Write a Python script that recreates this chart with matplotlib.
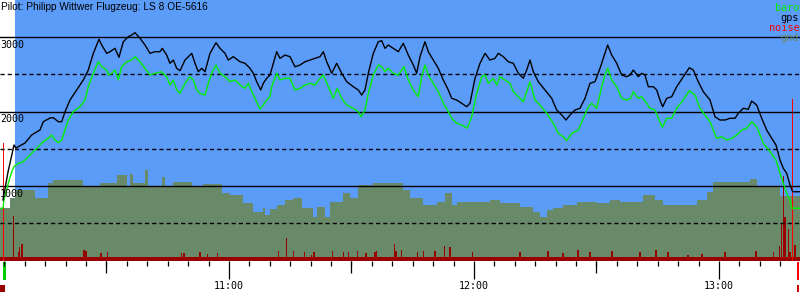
import matplotlib
matplotlib.use("Agg")
import matplotlib.pyplot as plt
from matplotlib.patches import Rectangle
from matplotlib.ticker import FixedLocator, NullFormatter
import matplotlib.transforms as mtransforms

# Zeit in Minuten nach 10:00, Hoehe in m
gps_t = [4.65, 5.88, 7.35, 7.84, 10.04, 11.68, 13.72, 14.52, 16.17, 16.97, 18.20, 19.03, 19.84,
         21.06, 22.70, 24.32, 25.54, 26.77, 27.60, 28.16, 28.83, 30.05, 30.86, 32.08, 33.06,
         34.12, 35.34, 36.17, 36.98, 38.21, 39.43, 40.65, 41.88, 43.10, 43.67, 44.74, 45.55,
         46.36, 47.19, 48.00, 49.23, 50.87, 51.68, 52.48, 53.32, 54.12, 55.35, 56.82, 57.80,
         59.02, 59.83, 61.06, 62.70, 63.92, 65.15, 65.95, 66.79, 67.77, 68.40, 69.23, 70.04,
         70.85, 71.68, 72.49, 73.72, 74.94, 76.16, 77.39, 78.61, 79.84, 81.06, 82.29, 83.10,
         83.93, 85.15, 86.38, 87.60, 88.83, 90.44, 91.67, 92.50, 93.31, 94.12, 95.34, 96.57,
         97.40, 98.21, 99.01, 100.24, 101.46, 102.69, 103.91, 105.14, 105.97, 106.78, 108.00,
         108.81, 110.03, 111.26, 112.48, 113.71, 114.54, 115.76, 116.99, 118.21, 119.02, 120.25,
         121.47, 122.70, 123.92, 125.15, 125.95, 127.18, 128.40, 129.63, 130.85, 132.08, 132.91,
         133.72, 134.53, 135.75, 137.39, 139.03, 140.26, 141.48, 142.53, 143.51, 144.74, 145.96,
         147.19, 148.41, 149.64, 150.86, 152.08, 152.74, 153.72, 154.95, 156.17, 157.40, 158.21,
         159.02, 160.24, 161.07, 161.88, 162.69, 163.92, 164.75, 165.55, 166.21, 167.19, 168.42,
         169.64, 171.26, 172.73, 173.71, 174.93, 176.16, 177.80, 179.02, 180.25, 181.47, 182.70,
         183.92, 184.73, 185.95, 187.18, 188.01, 189.23, 190.46, 191.68, 192.91, 193.96, 194.94,
         195.75, 196.58, 197.39, 198.05, 199.84]
gps_alt = [812, 1188, 1550, 1510, 1577, 1685, 1752, 1863, 1913, 1917, 1863, 1863, 1997,
           2154, 2289, 2423, 2557, 2781, 2893, 2969, 2893, 2781, 2803, 2848, 2728,
           2937, 3004, 3027, 3058, 2983, 2893, 2781, 2803, 2803, 2848, 2758, 2647,
           2691, 2580, 2548, 2691, 2781, 2647, 2534, 2580, 2534, 2781, 2923, 2848,
           2781, 2691, 2736, 2668, 2647, 2580, 2513, 2400, 2289, 2379, 2446, 2490,
           2647, 2803, 2714, 2758, 2736, 2601, 2624, 2668, 2691, 2714, 2736, 2803,
           2668, 2513, 2647, 2513, 2400, 2333, 2289, 2221, 2289, 2513, 2781, 2937,
           2950, 2848, 2893, 2848, 2803, 2915, 2758, 2624, 2513, 2736, 2937,
           2803, 2691, 2580, 2423, 2289, 2177, 2154, 2110, 2064, 2110, 2446,
           2647, 2781, 2691, 2714, 2781, 2736, 2668, 2647, 2513, 2446, 2557,
           2691, 2534, 2400, 2289, 2177, 2020, 1953, 1886, 1953, 2020, 2043,
           2177, 2379, 2400, 2580, 2781, 2893, 2758, 2647, 2490, 2467, 2490,
           2557, 2467, 2513, 2490, 2333, 2333, 2289, 2154, 2064, 2177, 2199,
           2333, 2467, 2588, 2557, 2400, 2266, 2154, 1930, 1886, 1886, 1909,
           1909, 1976, 2043, 2030, 2141, 2087, 1909, 1752, 1640, 1550, 1349,
           1238, 1170, 1013, 923, 923]

baro_t = [3.92, 4.65, 4.90, 5.95, 6.79, 7.35, 8.40, 9.63, 11.27, 12.91, 13.72, 14.52, 15.75,
          16.58, 17.39, 18.20, 19.03, 19.84, 20.65, 21.87, 23.51, 24.74, 25.54, 26.77, 27.99,
          28.83, 30.05, 30.44, 31.28, 32.08, 32.89, 33.72, 34.95, 36.17, 36.98, 38.21, 39.43,
          40.65, 41.88, 43.52, 44.74, 45.55, 46.36, 47.19, 48.00, 49.23, 50.45, 51.26, 52.09,
          52.90, 54.12, 54.93, 55.76, 56.82, 57.80, 59.02, 60.25, 61.47, 62.70, 63.92, 64.73,
          65.56, 66.37, 67.59, 68.40, 69.23, 70.04, 70.46, 71.68, 72.49, 73.72, 74.94, 76.16,
          77.39, 78.61, 79.84, 81.06, 82.29, 83.10, 84.32, 85.55, 86.52, 87.60, 88.83, 90.44,
          91.67, 92.33, 93.31, 94.12, 95.34, 96.57, 97.40, 98.21, 99.01, 100.24, 101.46, 102.86,
          103.91, 105.14, 106.36, 107.19, 108.00, 108.81, 110.03, 111.26, 112.48, 113.71, 114.54,
          115.76, 116.99, 118.36, 119.44, 120.66, 121.89, 122.70, 123.51, 124.73, 125.56, 126.37,
          127.59, 128.82, 129.63, 130.85, 132.08, 132.91, 133.72, 134.94, 136.17, 137.81, 139.42,
          140.65, 141.87, 142.70, 143.93, 145.55, 146.77, 148.00, 148.83, 150.05, 151.28, 152.08,
          152.74, 153.72, 154.95, 156.17, 157.40, 158.38, 159.02, 160.24, 161.07, 162.30, 163.10,
          164.33, 165.14, 166.12, 167.19, 168.42, 169.64, 171.26, 172.73, 174.13, 175.35, 176.57,
          177.80, 179.44, 180.67, 181.89, 183.12, 184.34, 185.56, 186.79, 188.01, 189.23, 190.85,
          192.49, 193.96, 194.94, 195.75, 196.58, 197.39, 197.81, 199.84]
baro_alt = [701, 701, 812, 1036, 1192, 1259, 1305, 1326, 1416, 1506, 1550, 1595, 1640,
            1685, 1617, 1581, 1617, 1752, 1886, 1997, 2064, 2154, 2333, 2513, 2668,
            2601, 2557, 2490, 2513, 2557, 2423, 2601, 2668, 2691, 2736, 2668, 2580,
            2490, 2513, 2534, 2467, 2356, 2423, 2289, 2244, 2379, 2467, 2423, 2289,
            2244, 2221, 2379, 2513, 2624, 2513, 2467, 2400, 2423, 2356, 2311, 2379,
            2266, 2177, 2030, 2087, 2154, 2199, 2333, 2513, 2423, 2446, 2446, 2289,
            2311, 2356, 2379, 2356, 2446, 2490, 2333, 2177, 2311, 2177, 2087, 2043,
            1997, 1930, 2020, 2244, 2490, 2624, 2601, 2534, 2580, 2513, 2490, 2601,
            2423, 2289, 2199, 2467, 2624, 2490, 2379, 2266, 2110, 1997, 1909,
            1842, 1819, 1775, 1930, 2244, 2467, 2490, 2379, 2446, 2356, 2467,
            2423, 2379, 2266, 2199, 2132, 2266, 2400, 2154, 2087, 1976, 1842,
            1707, 1662, 1608, 1707, 1752, 1909, 2064, 2110, 2043, 2333, 2490,
            2580, 2423, 2333, 2177, 2154, 2177, 2266, 2177, 2199, 2110, 2043,
            2020, 1909, 1788, 1909, 1909, 2043, 2154, 2279, 2221, 2043, 1953,
            1863, 1640, 1662, 1617, 1640, 1685, 1752, 1775, 1863, 1796, 1573,
            1460, 1349, 1170, 1036, 902, 812, 701, 701]

gnd_t = [3.92, 6.37, 7.59, 12.49, 15.68, 16.90, 24.25, 28.41, 32.57, 35.02, 35.76, 36.49,
         39.43, 40.17, 43.59, 44.33, 46.29, 50.94, 53.63, 58.29, 60.25, 63.43, 65.88, 68.33,
         68.82, 70.04, 71.76, 73.72, 75.68, 77.88, 80.57, 81.55, 83.51, 84.74, 87.92, 89.64,
         91.59, 95.27, 102.61, 104.33, 107.51, 110.94, 112.90, 114.61, 115.84, 123.92, 126.37,
         131.27, 134.45, 136.17, 137.88, 139.35, 141.80, 145.23, 150.13, 153.31, 155.76,
         161.39, 164.33, 166.29, 174.62, 177.06, 178.53, 187.59, 189.31, 194.94, 199.84]
gnd_alt = [705, 839, 946, 835, 1036, 1081, 991, 1036, 1148, 991, 1161, 1036,
           1215, 991, 1125, 991, 1058, 991, 1027, 902, 879, 768, 655, 701,
           611, 687, 745, 812, 835, 701, 588, 722, 588, 789, 902, 835,
           1013, 1036, 946, 835, 745, 789, 902, 745, 789, 812, 768,
           722, 655, 588, 678, 701, 745, 789, 768, 812, 789,
           879, 812, 745, 812, 924, 1058, 1090, 991, 866, 866]

noise_t = [4.78, 7.18, 8.40, 8.65, 9.31, 24.49, 24.98, 28.65, 30.20, 48.42, 48.98, 52.90,
           54.69, 57.14, 72.08, 74.13, 75.75, 78.44, 80.25, 80.82, 85.40, 88.00, 89.22, 91.42,
           93.55, 95.76, 96.17, 100.48, 100.90, 102.30, 106.12, 107.59, 110.45, 112.73, 114.13,
           119.68, 131.27, 138.13, 141.80, 145.47, 148.41, 153.80, 160.66, 164.57, 167.51,
           172.41, 175.84, 181.47, 189.06, 193.30, 194.77, 195.36, 195.75, 196.17, 196.98,
           197.39, 198.62]
noise_v = [342, 597, 118, 185, 221, 141, 128, 101, 114, 105, 105, 110,
           87, 97, 128, 302, 128, 110, 74, 110, 128, 110, 110, 128,
           97, 118, 128, 221, 128, 141, 110, 128, 128, 195, 177,
           110, 114, 128, 101, 141, 114, 128, 114, 141, 114,
           74, 87, 118, 128, 114, 195, 499, 1134, 580, 423,
           114, 208]
noise_peak_t = [4.73, 198.05]
noise_peak_v = [1577, 2168]
noise_floor = 47

takeoff_t = 4.65
landing_t = 199.35

title = "Pilot: Philipp Wittwer Flugzeug: LS 8 OE-5616"
hour_ticks = [60, 120, 180]
hour_labels = ["11:00", "12:00", "13:00"]
half_ticks = [30, 90, 150]
minor_ticks = list(range(5, 200, 5))
solid_levels = [1000, 2000, 3000]
dashed_levels = [500, 1500, 2500]

t_min, t_max = 3.92, 199.84
a_min, a_max = -7, 3497

c_sky = "#5b9cf9"
c_gnd = "#698a69"
c_noise = "#990000"
c_peak = "#ff0000"
c_baro = "#00ee00"

plt.rcParams["lines.scale_dashes"] = False
fig = plt.figure(figsize=(8, 3), dpi=100)
ax = fig.add_axes([0, 0.13, 1, 0.87])
ax.set_facecolor(c_sky)
ax.set_xlim(t_min, t_max)
ax.set_ylim(a_min, a_max)

ax.axvspan(t_min, 7.59, color="white", lw=0, zorder=0.5)
ax.fill_between(gnd_t, gnd_alt, a_min, step="post", color=c_gnd, lw=0, zorder=1)

ax.axhspan(a_min, noise_floor, color=c_noise, lw=0, zorder=2)
ax.bar(noise_t, [v - a_min for v in noise_v], bottom=a_min, width=0.3,
       color=c_noise, lw=0, zorder=2)
ax.bar(noise_peak_t, [v - a_min for v in noise_peak_v], bottom=a_min, width=0.3,
       color=c_peak, lw=0, zorder=2.1)

for lv in solid_levels:
    ax.axhline(lv, color="black", lw=1.0, zorder=3)
for lv in dashed_levels:
    ax.axhline(lv, color="black", lw=1.0, ls=(0, (3, 2.2)), zorder=3)

ax.plot(baro_t, baro_alt, color=c_baro, lw=1.0, zorder=4)
ax.plot(gps_t, gps_alt, color="black", lw=1.0, zorder=5)

# Hoehenbeschriftung links
for lv in solid_levels:
    ax.text(t_min, lv - 35, str(lv), ha="left", va="top", fontsize=7.2,
            family="DejaVu Sans Mono", zorder=6)

# Start/Landung unter der Achse
trans = mtransforms.blended_transform_factory(ax.transData, ax.transAxes)
for x0, w, y0, h, c in [(takeoff_t, 0.7, -0.073, 0.069, "#00cc00"),
                        (t_min, 1.2, -0.119, 0.027, "#990000"),
                        (landing_t - 0.2, 0.5, -0.073, 0.069, "#ff0000"),
                        (landing_t - 0.2, 0.5, -0.119, 0.027, "#cc0000")]:
    ax.add_patch(Rectangle((x0, y0), w, h, transform=trans, color=c,
                           clip_on=False, lw=0))

ax.set_yticks([])
ax.xaxis.set_major_locator(FixedLocator(hour_ticks))
ax.set_xticklabels(hour_labels, family="DejaVu Sans Mono", fontsize=7.2)
ax.xaxis.set_minor_locator(FixedLocator(minor_ticks))
ax.xaxis.set_minor_formatter(NullFormatter())
ax.tick_params(axis="x", which="major", length=13, width=0.9, pad=1.5)
ax.tick_params(axis="x", which="minor", length=3.8, width=0.9)
for s in ax.spines.values():
    s.set_visible(False)

sec = ax.secondary_xaxis("bottom")
sec.set_xticks(half_ticks)
sec.tick_params(length=8.3, width=0.9, labelbottom=False)
sec.spines["bottom"].set_visible(False)

fig.text(0.001, 0.995, title, ha="left", va="top", fontsize=7.3,
         family="Liberation Sans")

legend = [("baro", c_baro), ("gps", "black"), ("noise", c_peak), ("gnd", c_gnd)]
for i, (lab, c) in enumerate(legend):
    fig.text(0.999, 0.99 - i * 0.033, lab, ha="right", va="top", color=c,
             fontsize=7.4, family="DejaVu Sans Mono")

fig.savefig("out.png", dpi=100)
